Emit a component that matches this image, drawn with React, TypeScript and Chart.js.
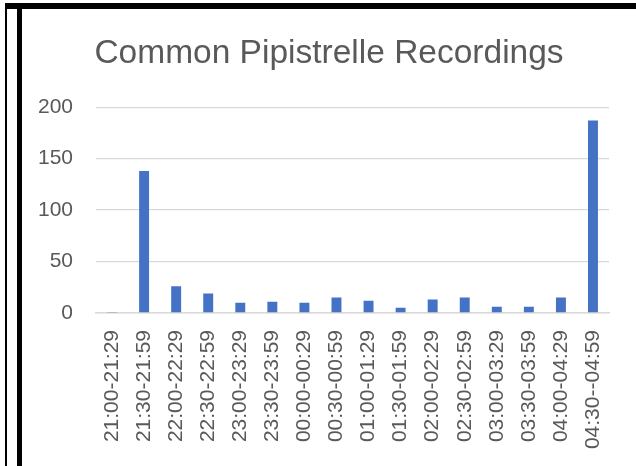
import React, { useEffect, useRef } from "react";
import { Chart, registerables } from "chart.js";

Chart.register(...registerables);

const categories = [
  "21:00-21:29", "21:30-21:59", "22:00-22:29", "22:30-22:59",
  "23:00-23:29", "23:30-23:59", "00:00-00:29", "00:30-00:59",
  "01:00-01:29", "01:30-01:59", "02:00-02:29", "02:30-02:59",
  "03:00-03:29", "03:30-03:59", "04:00-04:29", "04:30--04:59",
];
const recordings = [1, 138, 26, 19, 10, 11, 10, 15, 12, 5, 13, 15, 6, 6, 15, 187];
const yMax = 200;
const yStep = 50;
const titleText = "Common Pipistrelle Recordings";

const FONT = "'Liberation Sans', Arial, sans-serif";
const TEXT = "#595959";

export default function App() {
  const ref = useRef<HTMLCanvasElement | null>(null);
  useEffect(() => {
    if (!ref.current) return;
    const chart = new Chart(ref.current, {
      type: "bar",
      data: {
        labels: categories,
        datasets: [
          {
            data: recordings,
            backgroundColor: "#4472C4",
            barPercentage: 0.31,
            categoryPercentage: 1,
          },
        ],
      },
      options: {
        responsive: false,
        animation: false,
        layout: { padding: { left: 22, right: 0, top: 10, bottom: 0 } },
        plugins: {
          legend: { display: false },
          tooltip: { enabled: false },
          title: {
            display: true,
            text: titleText,
            color: TEXT,
            font: { family: FONT, size: 33.5, weight: "normal" },
            padding: { top: 24, bottom: 33 },
          },
        },
        scales: {
          x: {
            grid: { display: false, drawTicks: false },
            border: { display: true, color: "#d9d9d9", width: 1.5 },
            ticks: {
              color: TEXT,
              font: { family: FONT, size: 21 },
              minRotation: 90,
              maxRotation: 90,
              autoSkip: false,
              padding: 17,
            },
            afterFit: (s: any) => {
              s.height = 153;
            },
          },
          y: {
            min: 0,
            max: yMax,
            grid: { color: "#d9d9d9", lineWidth: 1.3, drawTicks: false },
            border: { display: false },
            ticks: {
              stepSize: yStep,
              color: TEXT,
              font: { family: FONT, size: 21 },
              padding: 23,
            },
            afterFit: (s: any) => {
              s.width = 74;
            },
          },
          yRight: {
            type: "linear",
            position: "right",
            min: 0,
            max: yMax,
            grid: { display: false, drawTicks: false },
            border: { display: false },
            ticks: { display: false },
            afterFit: (s: any) => {
              s.width = 26;
            },
          },
        },
      },
    });
    return () => chart.destroy();
  }, []);

  return (
    <div style={{ position: "fixed", left: 0, top: 0, width: 636, height: 466, background: "#fff" }}>
      <canvas ref={ref} width={636} height={466} style={{ position: "absolute", left: 0, top: 0 }} />
      <div style={{ position: "absolute", left: 5, top: 3, width: 631, height: 6, background: "#000" }} />
      <div style={{ position: "absolute", left: 5, top: 3, width: 1.5, height: 463, background: "#000" }} />
      <div style={{ position: "absolute", left: 17, top: 3, width: 5, height: 463, background: "#000" }} />
    </div>
  );
}
